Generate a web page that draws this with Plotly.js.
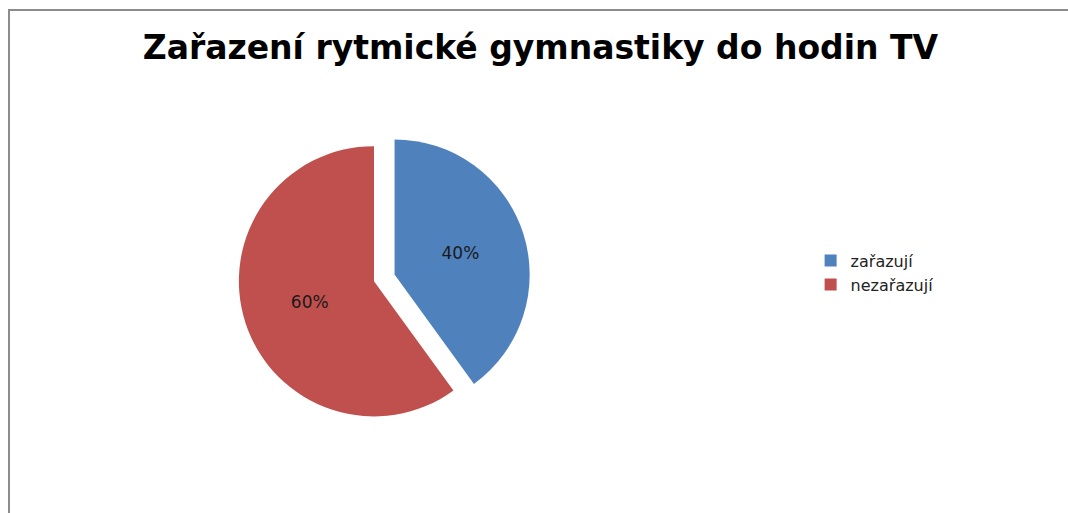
<!DOCTYPE html>
<html>
<head>
<meta charset="utf-8">
<script src="https://cdn.plot.ly/plotly-3.0.1.min.js"></script>
<style>html,body{margin:0;padding:0;background:#fff;}#chart{width:1068px;height:513px;}</style>
</head>
<body>
<div id="chart"></div>
<script>
const categories = ["zařazují", "nezařazují"];
const values = [40, 60];
const colors = ["#4F81BD", "#C0504D"];
const titleText = "Zařazení rytmické gymnastiky do hodin TV";

const trace = {
  type: "pie",
  labels: categories,
  values: values,
  sort: false,
  direction: "clockwise",
  rotation: 0,
  pull: [0.12, 0.04],
  marker: {colors: colors, line: {color: "#ffffff", width: 0}},
  textinfo: "percent",
  texttemplate: "%{percent:.0%}",
  textposition: "inside",
  insidetextfont: {family: "DejaVu Sans, sans-serif", size: 17, color: "#1a1a1a"},
  hoverinfo: "label+percent",
  domain: {x: [0.21, 0.5], y: [0.16, 0.75]}
};

const layout = {
  width: 1068,
  height: 513,
  margin: {l: 0, r: 0, t: 0, b: 0},
  paper_bgcolor: "#ffffff",
  title: {
    text: "<b>" + titleText + "</b>",
    font: {family: "DejaVu Sans, sans-serif", size: 33, color: "#000"},
    x: 0.506, xanchor: "center",
    y: 1 - 47/513, yanchor: "middle"
  },
  showlegend: true,
  legend: {
    x: 0.759, y: 0.525, xanchor: "left", yanchor: "top",
    font: {family: "DejaVu Sans, sans-serif", size: 16, color: "#222"},
    bgcolor: "rgba(0,0,0,0)"
  },
  shapes: [{
    type: "rect", xref: "paper", yref: "paper",
    x0: 9/1068, x1: 1.02, y0: -0.02, y1: 1 - 10/513,
    line: {color: "#8c8c8c", width: 2}
  }]
};

Plotly.newPlot("chart", [trace], layout, {displayModeBar: false, staticPlot: true});
</script>
</body>
</html>
